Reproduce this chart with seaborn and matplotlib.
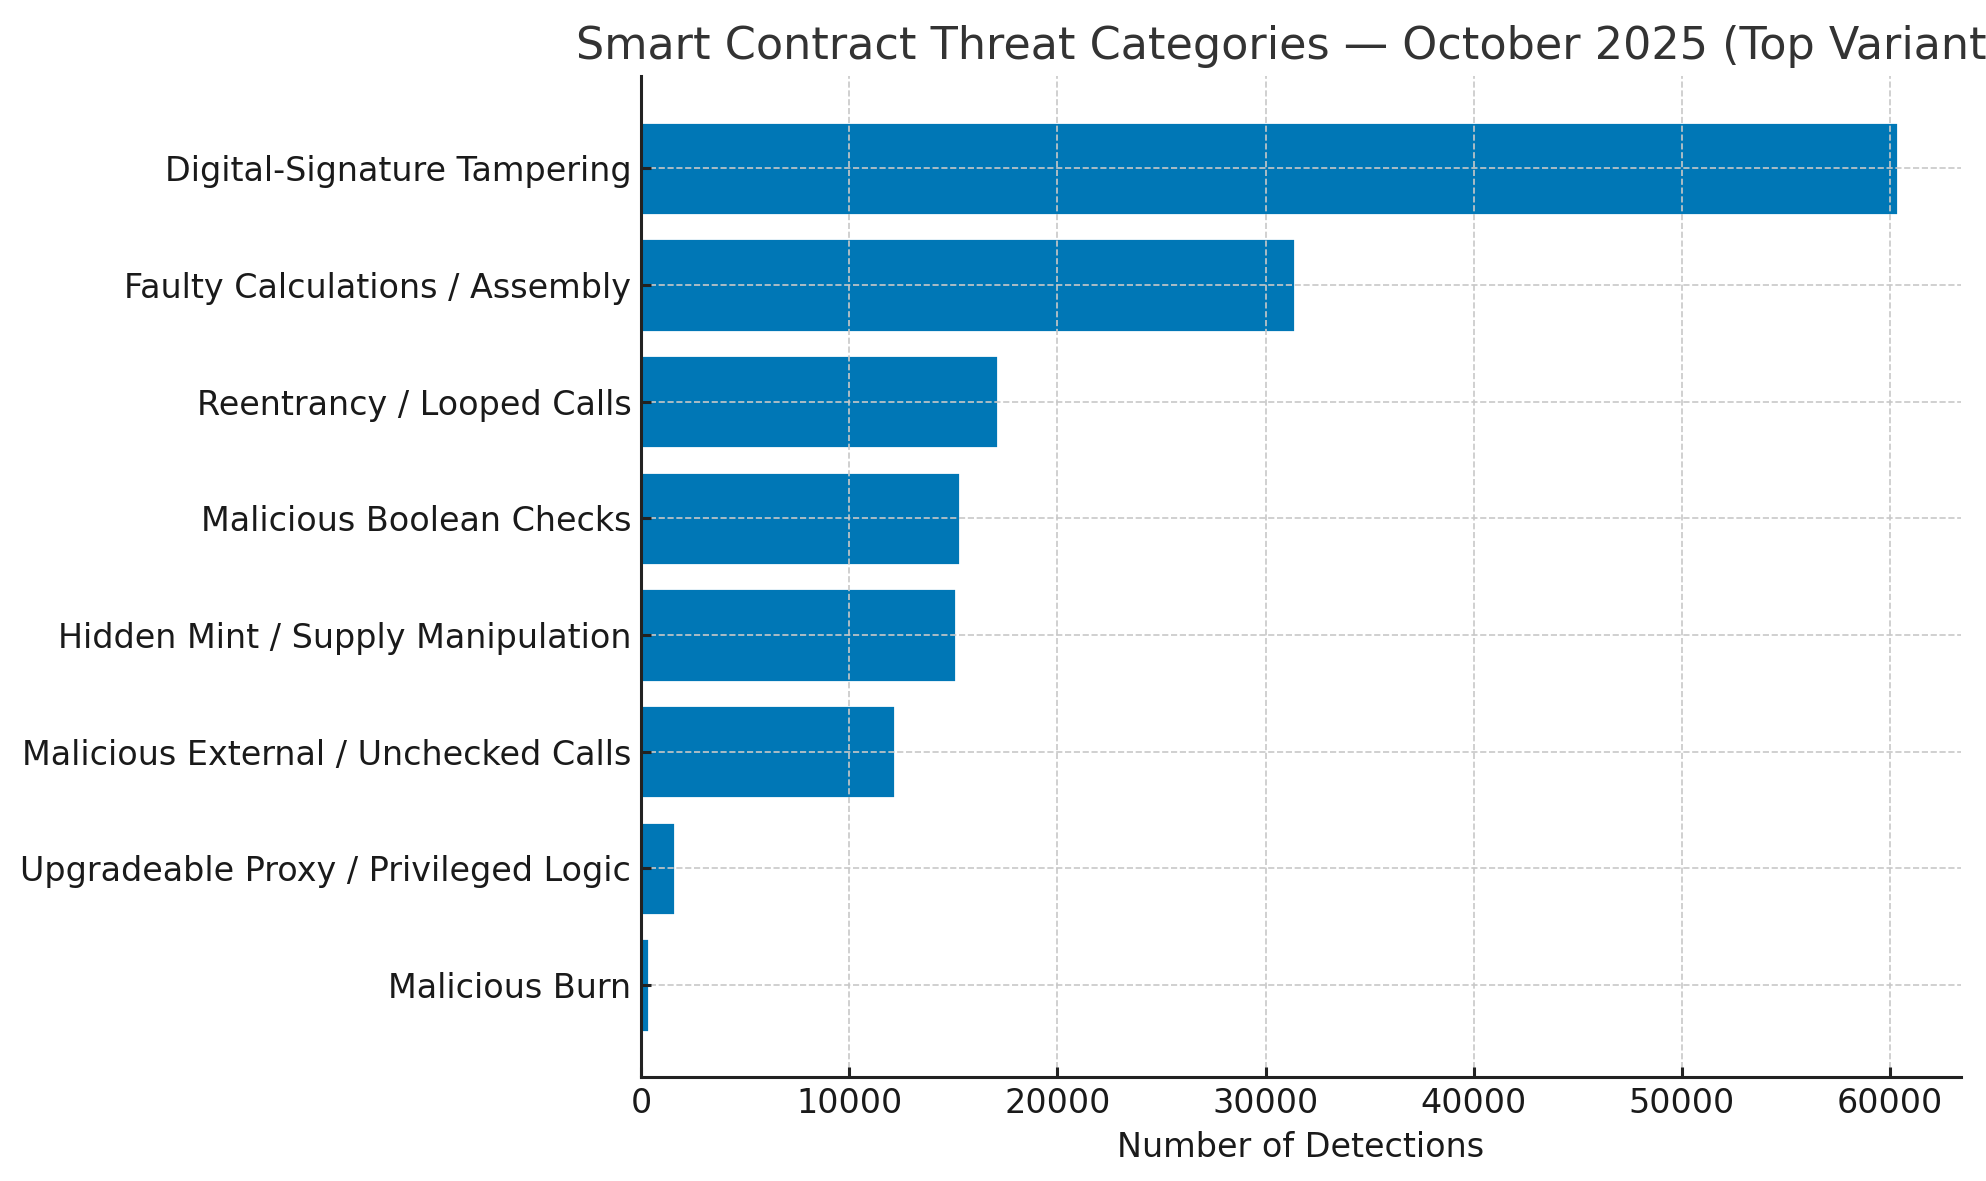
import matplotlib
matplotlib.use("Agg")
import matplotlib.pyplot as plt
import seaborn as sns
import pandas as pd

categories = [
    "Digital-Signature Tampering",
    "Faulty Calculations / Assembly",
    "Reentrancy / Looped Calls",
    "Malicious Boolean Checks",
    "Hidden Mint / Supply Manipulation",
    "Malicious External / Unchecked Calls",
    "Upgradeable Proxy / Privileged Logic",
    "Malicious Burn",
]
detections = [60390, 31400, 17150, 15300, 15120, 12210, 1640, 380]

title = "Smart Contract Threat Categories \u2014 October 2025 (Top Variants)"
xlabel = "Number of Detections"

df = pd.DataFrame({"category": categories, "detections": detections})

sns.set_style("white")
plt.rcParams["font.family"] = ["DejaVu Sans"]

fig = plt.figure(figsize=(9.93, 5.905), dpi=200)
ax = fig.add_axes([641 / 1986, 1 - 1077 / 1181, 1320 / 1986, 1001 / 1181])

sns.barplot(data=df, x="detections", y="category", orient="h",
            color="#0077B6", saturation=1, width=0.8, ax=ax)

ax.set_ylim(len(categories) - 1 + 0.79, -0.79)
ax.set_xlim(0, max(detections) * 1.05)

ax.set_axisbelow(False)
ax.grid(True, linestyle="--", linewidth=0.6, color="#c8c8c8")

for side in ["top", "right"]:
    ax.spines[side].set_visible(False)
for side in ["left", "bottom"]:
    ax.spines[side].set_color("#222222")
    ax.spines[side].set_linewidth(1.1)
    ax.spines[side].set_zorder(4)

ax.tick_params(axis="both", which="both", direction="in", length=3.5, width=1.1,
               color="#222222", pad=3.5, labelsize=12, labelcolor="#1a1a1a",
               left=True, bottom=True)
ax.set_ylabel("")
ax.set_xlabel(xlabel, fontsize=12, color="#1a1a1a")
ax.set_title(title, fontsize=16, color="#333333")

fig.savefig("out.png", dpi=200)
